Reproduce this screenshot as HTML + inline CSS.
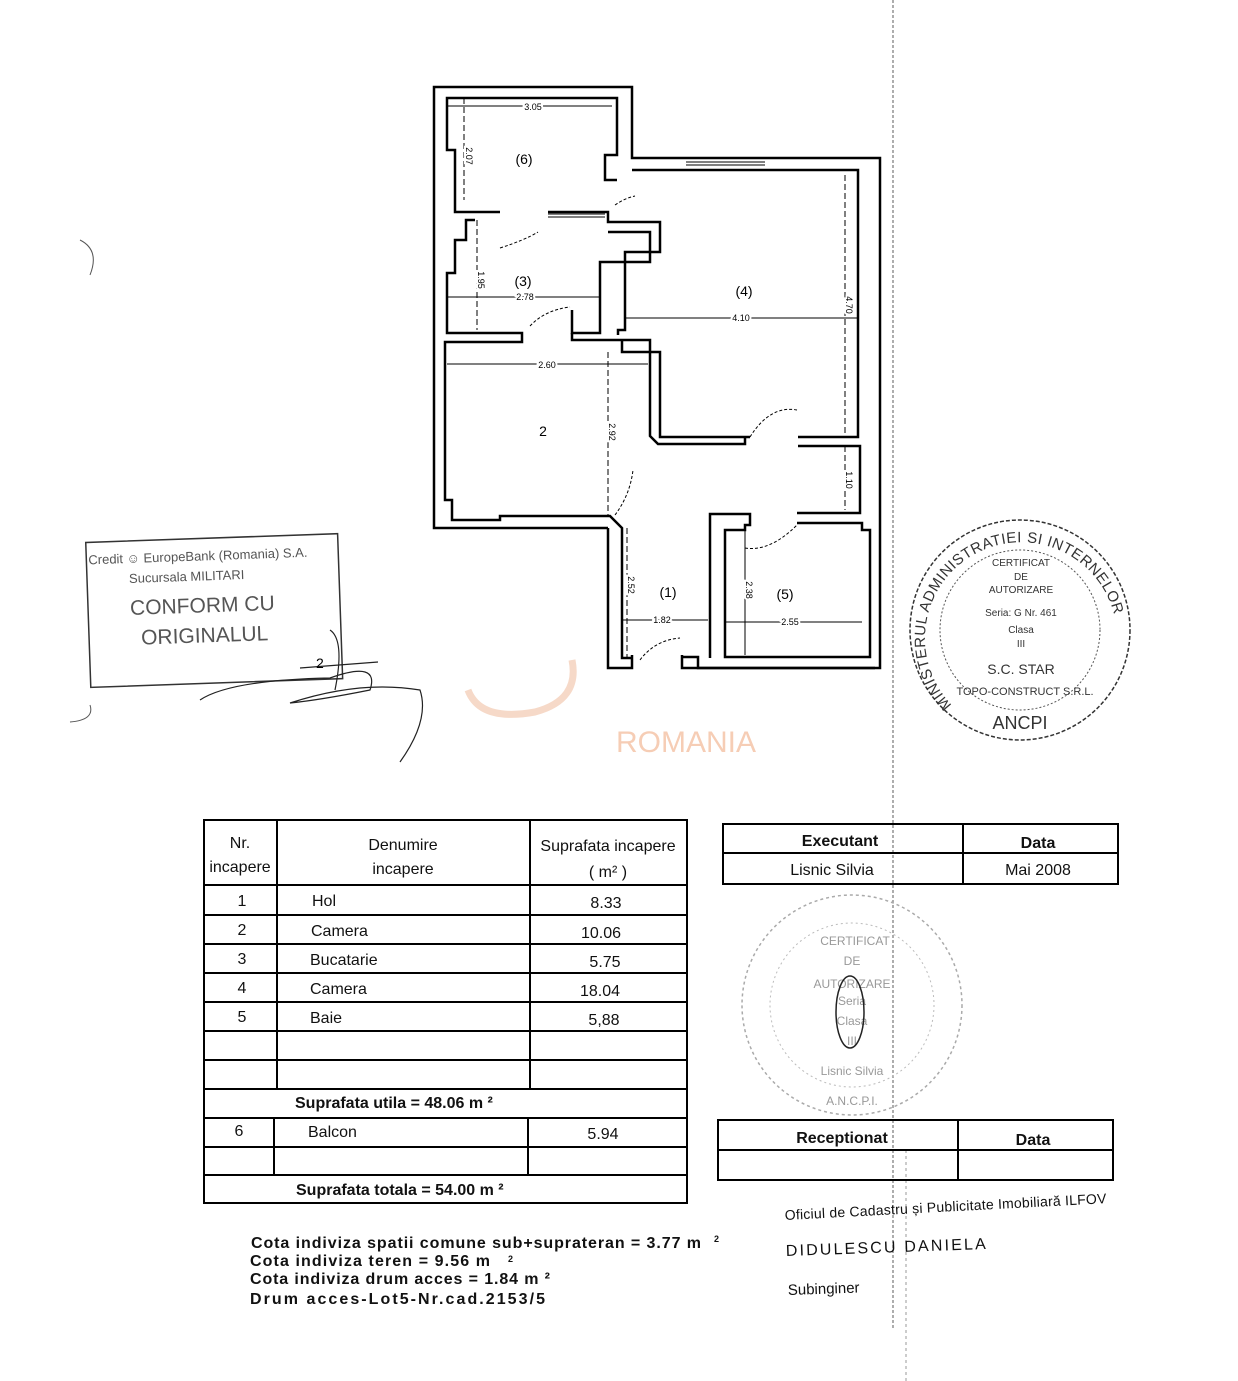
<!DOCTYPE html>
<html><head><meta charset="utf-8"><style>
html,body{margin:0;padding:0;background:#fff;}
svg{display:block;font-family:"Liberation Sans",sans-serif;}
</style></head><body>
<svg width="1238" height="1381" viewBox="0 0 1238 1381" xmlns="http://www.w3.org/2000/svg">
<rect width="1238" height="1381" fill="#fff"/>
<line x1="893" y1="0" x2="893" y2="1330" stroke="#777" stroke-width="1.2" stroke-dasharray="3,2"/>
<line x1="906" y1="1150" x2="906" y2="1381" stroke="#999" stroke-width="1" stroke-dasharray="3,3"/>

<path d="M468,690 Q480,722 535,712 Q580,700 572,660" fill="none" stroke="#f6d9c8" stroke-width="7"/>
<text x="686" y="752" font-size="30" fill="#f6cdb5" text-anchor="middle">ROMANIA</text>

<g fill="none" stroke="#000" stroke-width="2.5">
<polyline points="608,528 434,528 434,87 632,87 632,158 880,158 880,668 682,668 682,655"/>
<polyline points="632,655 632,668 608,668 608,528"/>
<polyline points="617,180 605,180 605,155 617,155 617,98 447,98 447,150 455,150 455,212 500,212"/>
<polyline points="548,212 608,212 608,222 660,222 660,252 625,252 625,330 618,330 618,335"/>
<polyline points="475,220 466,220 466,240 455,240 455,273 447,273 447,333 522,333 522,342 445,342 445,346"/>
<polyline points="572,310 572,333 600,333 600,262 650,262 650,232 608,232"/>
<polyline points="445,346 445,500 452,500 452,520 500,520 500,516 610,516 622,528 622,658 632,658"/>
<polyline points="572,333 572,340 650,340 650,436 658,444 745,444 745,437"/>
<polyline points="622,340 622,352 660,352 660,437 750,437"/>
<polyline points="632,170 858,170 858,437 798,437"/>
<polyline points="798,446 860,446 860,513 797,513"/>
<polyline points="710,658 710,514 750,514 750,525 745,525 745,530 725,530 725,657 870,657 870,530 862,530 862,523 797,523"/>
<polyline points="682,657 698,657 698,668 875,668"/>
</g>
<g fill="none" stroke="#000" stroke-width="1">
<line x1="686" y1="162" x2="765" y2="162"/><line x1="686" y1="165" x2="765" y2="165"/>
<line x1="548" y1="214" x2="605" y2="214"/><line x1="548" y1="217" x2="605" y2="217"/>
<path d="M500,248 Q525,240 538,232" stroke-dasharray="3,2"/>
<path d="M530,326 Q545,310 570,307" stroke-dasharray="3,2"/>
<path d="M750,437 Q770,405 797,410" stroke-dasharray="3,2"/>
<path d="M745,548 Q770,552 797,525" stroke-dasharray="3,2"/>
<path d="M640,660 Q655,640 680,638" stroke-dasharray="3,2"/>
<path d="M615,515 Q630,495 633,470" stroke-dasharray="3,2"/>
<path d="M615,205 Q625,198 635,196" stroke-dasharray="3,2"/>
<line x1="447" y1="106" x2="612" y2="106"/>
<line x1="464" y1="98" x2="464" y2="200" stroke-dasharray="6,3"/>
<line x1="447" y1="297" x2="600" y2="297"/>
<line x1="477" y1="220" x2="477" y2="330" stroke-dasharray="6,3"/>
<line x1="447" y1="364" x2="648" y2="364"/>
<line x1="608" y1="352" x2="608" y2="515" stroke-dasharray="6,3"/>
<line x1="625" y1="318" x2="858" y2="318"/>
<line x1="845" y1="175" x2="845" y2="437" stroke-dasharray="6,3"/>
<line x1="845" y1="446" x2="845" y2="510" stroke-dasharray="6,3"/>
<line x1="622" y1="620" x2="708" y2="620"/>
<line x1="627" y1="528" x2="627" y2="658" stroke-dasharray="6,3"/>
<line x1="725" y1="622" x2="862" y2="622"/>
<line x1="745" y1="528" x2="745" y2="655"/>
</g>
<g font-size="9" fill="#000" text-anchor="middle" stroke="#fff" stroke-width="4" style="paint-order:stroke">
<text x="533" y="110">3.05</text>
<text x="466" y="156" transform="rotate(90 466 156)">2.07</text>
<text x="478" y="280" transform="rotate(90 478 280)">1.95</text>
<text x="525" y="300">2.78</text>
<text x="547" y="368">2.60</text>
<text x="609" y="432" transform="rotate(90 609 432)">2.92</text>
<text x="741" y="321">4.10</text>
<text x="846" y="305" transform="rotate(90 846 305)">4.70</text>
<text x="846" y="480" transform="rotate(90 846 480)">1.10</text>
<text x="628" y="585" transform="rotate(90 628 585)">2.52</text>
<text x="662" y="623">1.82</text>
<text x="746" y="590" transform="rotate(90 746 590)">2.38</text>
<text x="790" y="625">2.55</text>
</g>
<g font-size="14" text-anchor="middle">
<text x="524" y="164">(6)</text><text x="523" y="286">(3)</text><text x="744" y="296">(4)</text>
<text x="543" y="436">2</text><text x="668" y="597">(1)</text><text x="785" y="599">(5)</text>
</g>

<g transform="rotate(-2 215 605)" fill="#555">
<rect x="88" y="538" width="252" height="145" fill="none" stroke="#333" stroke-width="1.5"/>
<text x="90" y="560" font-size="13">Credit ☺ EuropeBank (Romania) S.A.</text>
<text x="130" y="580" font-size="13">Sucursala MILITARI</text>
<text x="130" y="612" font-size="21">CONFORM CU</text>
<text x="140" y="642" font-size="21">ORIGINALUL</text>
</g>
<path d="M200,700 Q230,680 330,678 Q380,660 370,690 Q320,700 290,703 Q360,680 420,690 Q430,720 400,762 M330,630 Q345,640 335,690 M300,668 L378,662" fill="none" stroke="#222" stroke-width="1.2"/>
<text x="316" y="668" font-size="14">2</text>
<path d="M80,240 Q100,250 90,275 M90,705 Q95,720 70,722" fill="none" stroke="#555" stroke-width="1"/>

<g fill="#333">
<circle cx="1020" cy="630" r="110" fill="none" stroke="#333" stroke-width="1.5" stroke-dasharray="4,2"/>
<circle cx="1020" cy="630" r="80" fill="none" stroke="#555" stroke-width="1" stroke-dasharray="2,2"/>
<path id="arc1" d="M952,705 A96,96 0 1 1 1090,705" fill="none"/>
<text font-size="15" letter-spacing="0.5"><textPath href="#arc1">MINISTERUL ADMINISTRATIEI SI INTERNELOR</textPath></text>
<g font-size="10" text-anchor="middle">
<text x="1021" y="566">CERTIFICAT</text><text x="1021" y="580">DE</text><text x="1021" y="593">AUTORIZARE</text>
<text x="1021" y="616">Seria: G Nr. 461</text><text x="1021" y="633">Clasa</text><text x="1021" y="647">III</text>
<text x="1021" y="674" font-size="14">S.C. STAR</text>
<text x="1025" y="695" font-size="11">TOPO-CONSTRUCT S.R.L.</text>
<text x="1020" y="729" font-size="18">ANCPI</text>
</g></g>

<g fill="#999">
<circle cx="852" cy="1005" r="110" fill="none" stroke="#aaa" stroke-width="1.5" stroke-dasharray="3,3"/>
<circle cx="852" cy="1005" r="82" fill="none" stroke="#bbb" stroke-width="1" stroke-dasharray="2,3"/>
<g font-size="12" text-anchor="middle">
<text x="855" y="945">CERTIFICAT</text><text x="852" y="965">DE</text><text x="852" y="988">AUTORIZARE</text>
<text x="852" y="1005">Seria</text><text x="852" y="1025">Clasa</text><text x="852" y="1045">III</text>
<text x="852" y="1075">Lisnic Silvia</text><text x="852" y="1105">A.N.C.P.I.</text>
</g></g>
<ellipse cx="850" cy="1012" rx="14" ry="36" fill="none" stroke="#222" stroke-width="1.5"/>

<g fill="none" stroke="#000" stroke-width="2">
<rect x="204" y="820" width="483" height="383"/>
<line x1="277" y1="820" x2="277" y2="1089"/><line x1="530" y1="820" x2="530" y2="1089"/>
<line x1="274" y1="1118" x2="274" y2="1175"/><line x1="528" y1="1118" x2="528" y2="1175"/>
<line x1="204" y1="885" x2="687" y2="885"/>
<line x1="204" y1="915" x2="687" y2="915"/>
<line x1="204" y1="944" x2="687" y2="944"/>
<line x1="204" y1="973" x2="687" y2="973"/>
<line x1="204" y1="1002" x2="687" y2="1002"/>
<line x1="204" y1="1031" x2="687" y2="1031"/>
<line x1="204" y1="1060" x2="687" y2="1060"/>
<line x1="204" y1="1089" x2="687" y2="1089"/>
<line x1="204" y1="1118" x2="687" y2="1118"/>
<line x1="204" y1="1147" x2="687" y2="1147"/>
<line x1="204" y1="1175" x2="687" y2="1175"/>
</g>
<g font-size="16" fill="#111">
<text x="240" y="848" text-anchor="middle">Nr.</text><text x="240" y="872" text-anchor="middle">incapere</text>
<text x="403" y="850" text-anchor="middle">Denumire</text><text x="403" y="874" text-anchor="middle">incapere</text>
<text x="608" y="851" text-anchor="middle">Suprafata incapere</text><text x="608" y="877" text-anchor="middle">( m² )</text>
<g text-anchor="middle"><text x="242" y="906">1</text><text x="242" y="935">2</text><text x="242" y="964">3</text><text x="242" y="993">4</text><text x="242" y="1022">5</text><text x="239" y="1136">6</text>
<text x="606" y="908">8.33</text><text x="601" y="938">10.06</text><text x="605" y="967">5.75</text><text x="600" y="996">18.04</text><text x="604" y="1025">5,88</text><text x="603" y="1139">5.94</text></g>
<text x="312" y="906">Hol</text><text x="311" y="936">Camera</text><text x="310" y="965">Bucatarie</text><text x="310" y="994">Camera</text><text x="310" y="1023">Baie</text><text x="308" y="1137">Balcon</text>
<text x="295" y="1108" font-weight="bold">Suprafata utila = 48.06 m ²</text>
<text x="296" y="1195" font-weight="bold">Suprafata totala = 54.00 m ²</text>
</g>

<g fill="none" stroke="#000" stroke-width="2">
<rect x="723" y="824" width="395" height="60"/><line x1="723" y1="853" x2="1118" y2="853"/><line x1="963" y1="824" x2="963" y2="884"/>
<rect x="718" y="1120" width="395" height="60"/><line x1="718" y1="1150" x2="1113" y2="1150"/><line x1="958" y1="1120" x2="958" y2="1180"/>
</g>
<g font-size="16" fill="#111" text-anchor="middle">
<text x="840" y="846" font-weight="bold">Executant</text><text x="1038" y="848" font-weight="bold">Data</text>
<text x="832" y="875">Lisnic Silvia</text><text x="1038" y="875">Mai 2008</text>
<text x="842" y="1143" font-weight="bold">Receptionat</text><text x="1033" y="1145" font-weight="bold">Data</text>
</g>
<g fill="#111" font-size="14">
<text x="785" y="1220" transform="rotate(-3 785 1220)" textLength="322">Oficiul de Cadastru și Publicitate Imobiliară ILFOV</text>
<text x="786" y="1256" font-size="16" transform="rotate(-2 786 1256)" textLength="200">DIDULESCU DANIELA</text>
<text x="788" y="1295" font-size="15" transform="rotate(-2 788 1295)">Subinginer</text>
</g>
<g fill="#111" font-size="16" font-weight="bold">
<text x="251" y="1248" textLength="450">Cota indiviza spatii comune sub+suprateran = 3.77 m</text><text x="714" y="1242" font-size="9">2</text>
<text x="250" y="1266" textLength="240">Cota indiviza  teren = 9.56 m</text><text x="508" y="1262" font-size="9">2</text>
<text x="250" y="1284" textLength="300">Cota indiviza drum acces =  1.84 m ²</text>
<text x="250" y="1304" textLength="295">Drum acces-Lot5-Nr.cad.2153/5</text>
</g>
</svg>
</body></html>
